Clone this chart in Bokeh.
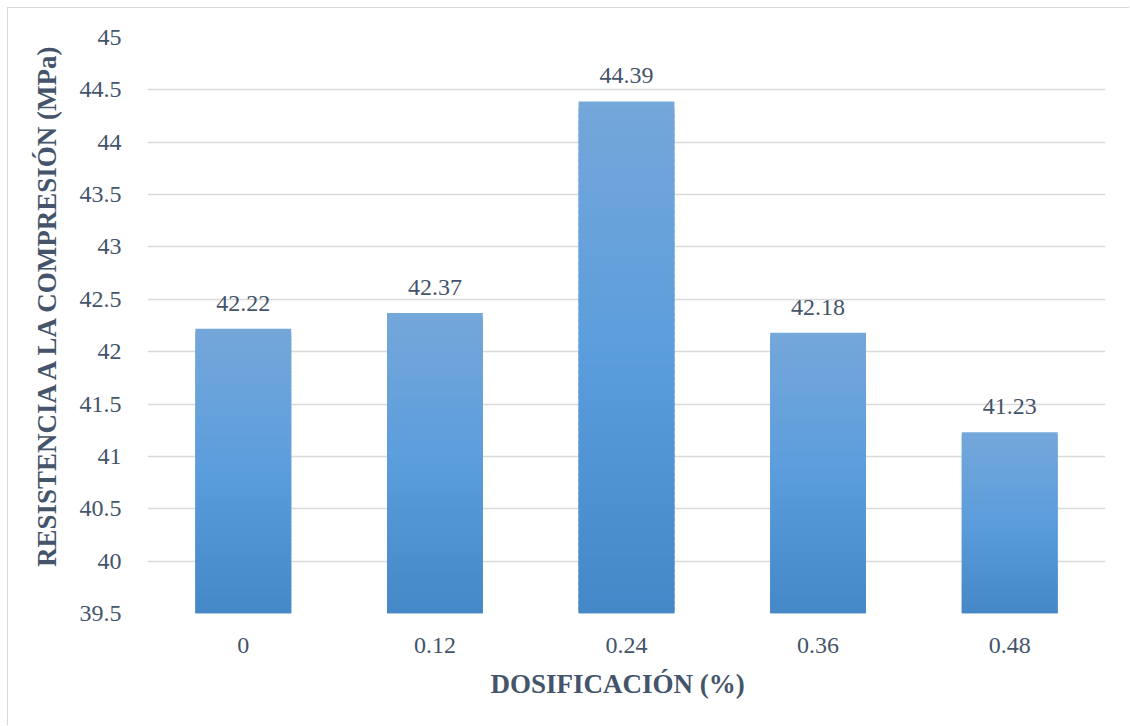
from bokeh.plotting import figure
from bokeh.models import FixedTicker, ColumnDataSource, Title
from bokeh.embed import file_html
from bokeh.resources import INLINE
from bokeh.core.properties import value

# Compressive strength by fiber dosage
dosages = ["0", "0.12", "0.24", "0.36", "0.48"]
strength = [42.22, 42.37, 44.39, 42.18, 41.23]
y_ticks = [39.5, 40, 40.5, 41, 41.5, 42, 42.5, 43, 43.5, 44, 44.5, 45]

Y_MIN, Y_MAX = 39.5, 45.0
BAR_W = 0.5
TEXT = "#44546A"
GRID = "#D9D9D9"
FONT = "Liberation Serif, serif"

# gradient stops for the bar fill (top -> middle -> bottom)
STOPS = [(0.0, (0x74, 0xA7, 0xDA)), (0.5, (0x5B, 0x9D, 0xDC)), (1.0, (0x44, 0x88, 0xC7))]


def grad_color(t):
    for (t0, c0), (t1, c1) in zip(STOPS[:-1], STOPS[1:]):
        if t <= t1:
            f = (t - t0) / (t1 - t0)
            r, g, b = (round(a + (bb - a) * f) for a, bb in zip(c0, c1))
            return "#%02x%02x%02x" % (r, g, b)
    return "#%02x%02x%02x" % STOPS[-1][1]


p = figure(
    width=1122, height=718,
    x_range=(-0.5, len(dosages) - 0.5), y_range=(Y_MIN, Y_MAX),
    output_backend="svg", toolbar_location=None,
    min_border_left=139, min_border_right=25, min_border_top=29, min_border_bottom=113,
)
p.styles = {"margin-left": "7px", "margin-top": "7px",
            "border-top": "1px solid #D9D9D9", "border-left": "1px solid #D9D9D9"}
p.outline_line_color = None
p.background_fill_color = "white"
p.border_fill_color = "white"

# bars drawn as overlapping thin slices to give a vertical gradient
N = 80
lefts, rights, bottoms, tops, colors = [], [], [], [], []
for i, v in enumerate(strength):
    h = (v - Y_MIN) / N
    for k in range(N):
        top = v - k * h
        lefts.append(i - BAR_W / 2)
        rights.append(i + BAR_W / 2)
        tops.append(top)
        bottoms.append(max(top - 2.5 * h, Y_MIN))
        colors.append(grad_color(k / (N - 1)))
p.quad(left=lefts, right=rights, bottom=bottoms, top=tops,
       fill_color=colors, line_color=None)

# value labels
src = ColumnDataSource(dict(x=list(range(len(dosages))), y=strength,
                            t=["%.2f" % v for v in strength]))
p.text(x="x", y="y", text="t", source=src, text_align="center",
       text_baseline="bottom", y_offset=-18, text_color=TEXT,
       text_font=value(FONT), text_font_size="24px")

# grid
p.xgrid.grid_line_color = None
p.ygrid.grid_line_color = GRID
p.ygrid.grid_line_width = 1.5
p.ygrid.ticker = FixedTicker(ticks=y_ticks)

# y axis
p.yaxis.ticker = FixedTicker(ticks=y_ticks)
p.yaxis.major_label_overrides = {t: ("%g" % t) for t in y_ticks}
p.yaxis.axis_line_color = None
p.yaxis.major_tick_line_color = None
p.yaxis.minor_tick_line_color = None
p.yaxis.major_label_standoff = 20
p.yaxis.major_label_text_font = FONT
p.yaxis.major_label_text_font_size = "24px"
p.yaxis.major_label_text_color = TEXT

# x axis
p.xaxis.ticker = FixedTicker(ticks=list(range(len(dosages))))
p.xaxis.major_label_overrides = {i: d for i, d in enumerate(dosages)}
p.xaxis.axis_line_color = None
p.xaxis.major_tick_line_color = None
p.xaxis.minor_tick_line_color = None
p.xaxis.major_label_standoff = 18
p.xaxis.major_label_text_font = FONT
p.xaxis.major_label_text_font_size = "24px"
p.xaxis.major_label_text_color = TEXT

# axis titles
y_title = Title(text="RESISTENCIA A LA COMPRESIÓN (MPa)", align="right", offset=3,
                standoff=30, text_font=FONT, text_font_style="bold",
                text_font_size="27px", text_color=TEXT)
p.add_layout(y_title, "left")
x_title = Title(text="DOSIFICACIÓN (%)", align="left", offset=343,
                standoff=22, text_font=FONT, text_font_style="bold",
                text_font_size="27px", text_color=TEXT)
p.add_layout(x_title, "below")

open("out.html", "w").write(file_html(p, INLINE))
